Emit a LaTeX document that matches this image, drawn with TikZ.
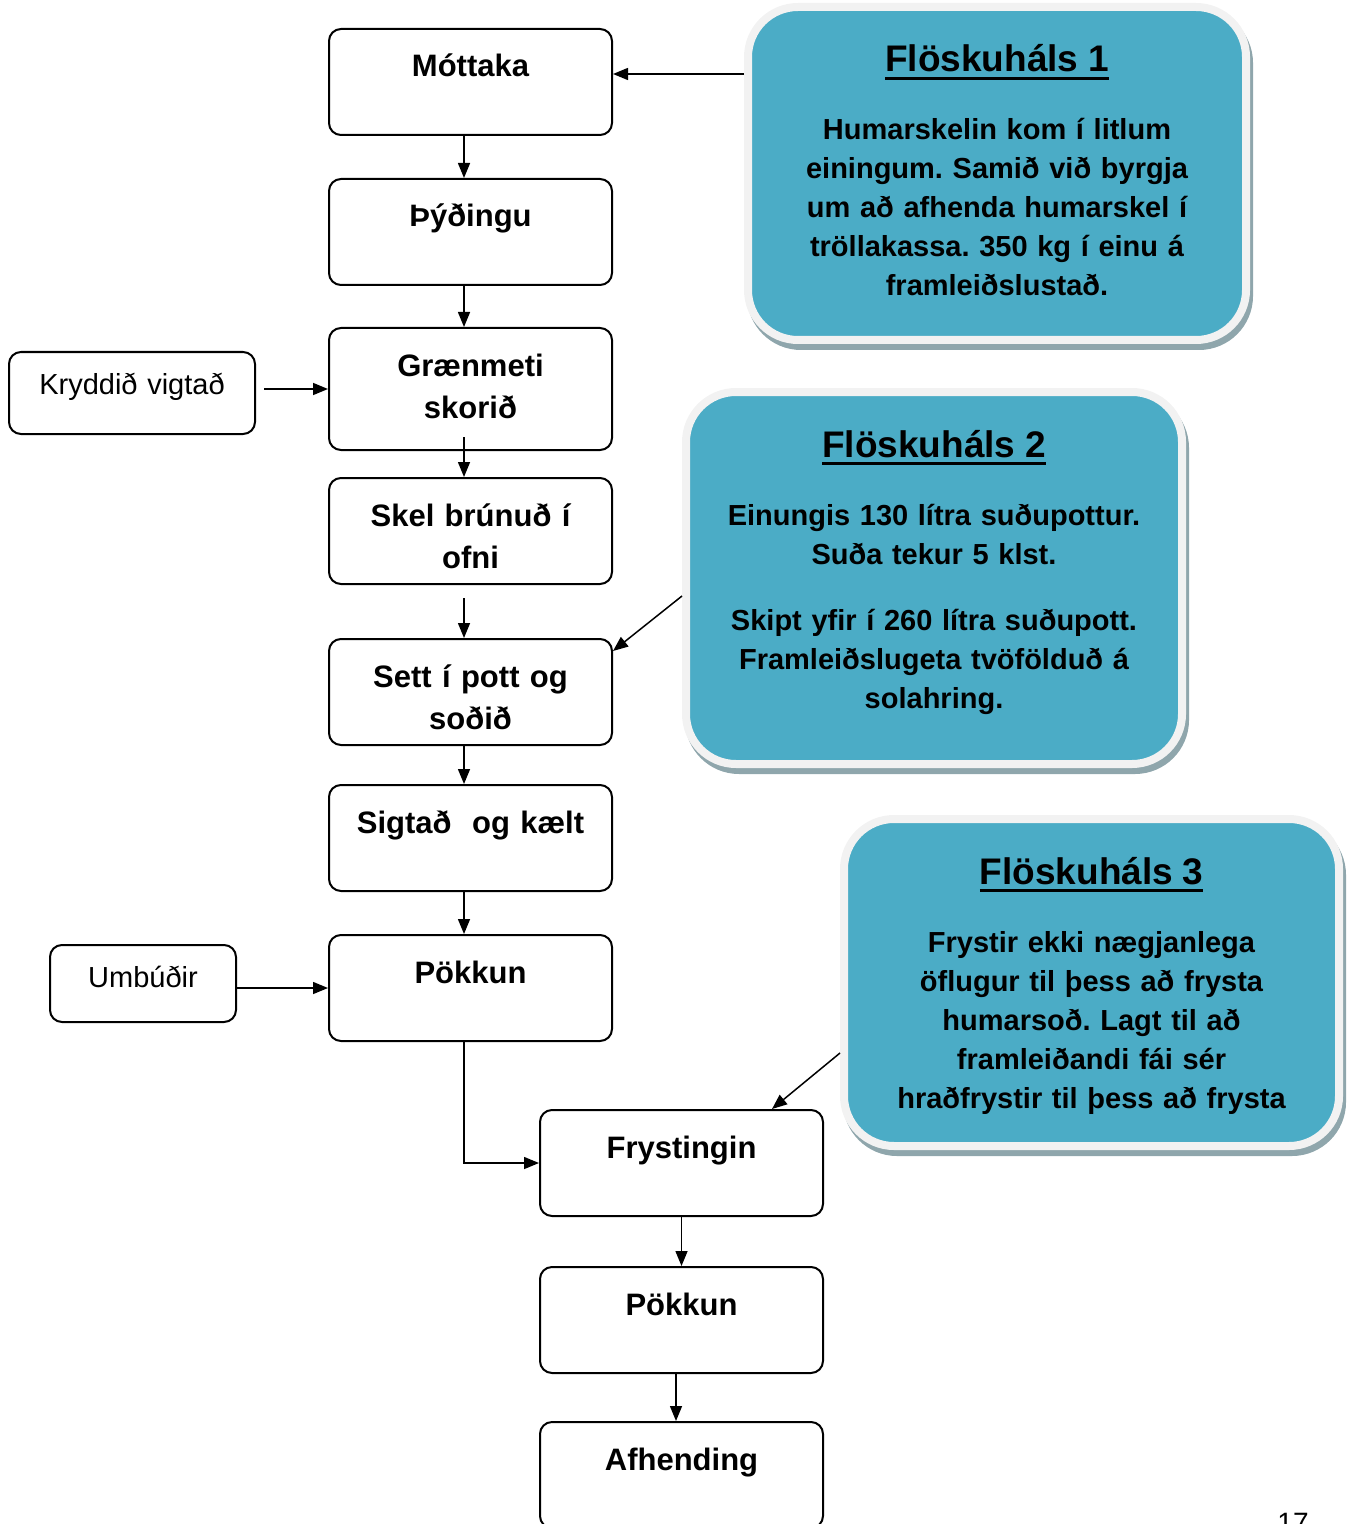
\documentclass[tikz,border=0pt]{standalone}
\usepackage{fontspec}
\setmainfont{Liberation Sans}
\usepackage{tikz}
\usetikzlibrary{arrows.meta,calc,shadows}
\definecolor{calloutblue}{RGB}{75,172,198}
\definecolor{calloutrim}{RGB}{242,242,242}
\definecolor{calloutshade}{RGB}{143,166,172}
\setlength{\parindent}{0pt}
\frenchspacing
\newcommand\flhead[1]{{\fontsize{18.5}{22}\selectfont\setbox0\hbox{#1}%
  \noindent\rlap{\rule[-3.8pt]{\wd0}{1.5pt}}\box0\par}\vspace{14.5pt}}

\begin{document}
\begin{tikzpicture}[x=0.5pt,y=-0.5pt,
  stepbox/.style={draw, line width=1pt, rounded corners=6pt, inner sep=0pt,
    text width=141.5pt, align=center, text height=24pt, text depth=29pt,
    font=\bfseries\fontsize{15.5}{21}\selectfont},
  inbox/.style={draw, line width=1pt, rounded corners=6pt, inner sep=0pt,
    align=center, text height=21pt, font=\fontsize{14.5}{18}\selectfont},
  callout/.style={draw=calloutrim, fill=calloutblue, line width=4pt,
    rounded corners=25pt, inner sep=0pt, align=center, text height=32.5pt,
    font=\bfseries\fontsize{14.5}{19.5}\selectfont,
    drop shadow={shadow xshift=1.5pt, shadow yshift=-3pt, fill=calloutshade,
      draw=calloutshade, opacity=1}},
  flow/.style={-{Triangle[length=7.5pt,width=6pt]}, line width=0.75pt}
]
\useasboundingbox (0,0) rectangle (1349,1524);

% main chain
\node[stepbox] (mot) at (470.5,82) {Móttaka};
\node[stepbox] (thy) at (470.5,232) {Þýðingu};
\node[stepbox, text depth=37pt] (gra) at (470.5,389) {Grænmeti\\ skorið};
\node[stepbox] (ske) at (470.5,531) {Skel brúnuð í\\ ofni};
\node[stepbox] (set) at (470.5,692) {Sett í pott og\\ soðið};
\node[stepbox] (sig) at (470.5,838) {Sigtað~ og kælt};
\node[stepbox] (pok) at (470.5,988) {Pökkun};
\node[stepbox] (fry) at (681.5,1163) {Frystingin};
\node[stepbox] (pok2) at (681.5,1320) {Pökkun};
\node[stepbox] (afh) at (681.5,1475) {Afhending};

% inputs
\node[inbox, text width=123pt, text depth=20pt] (kry) at (132,393) {Kryddið vigtað};
\node[inbox, text width=93pt, text depth=17.5pt] (umb) at (143,983.5) {Umbúðir};

% bottlenecks
\node[callout, text width=249pt, text depth=134pt] (fl1) at (997,173.5) {%
\flhead{Flöskuháls 1}Humarskelin kom í litlum\\ einingum. Samið við byrgja\\
um að afhenda humarskel í\\ tröllakassa. 350 kg í einu á\\ framleiðslustað.};
\node[callout, text width=248pt, text depth=153.5pt] (fl2) at (934,578) {%
\flhead{Flöskuháls 2}Einungis 130 lítra suðupottur.\\ Suða tekur 5 klst.\par
\vspace{13.5pt}Skipt yfir í 260 lítra suðupott.\\ Framleiðslugeta tvöfölduð á\\ solahring.};
\node[callout, text width=247.5pt, text depth=131pt] (fl3) at (1091.5,982.5) {%
\flhead{Flöskuháls 3}Frystir ekki nægjanlega\\ öflugur til þess að frysta\\
humarsoð. Lagt til að\\ framleiðandi fái sér\\ hraðfrystir til þess að frysta};

\node[anchor=base, font=\fontsize{14}{16}\selectfont] (pgno) at (1293,1532) {17};

% connectors
\draw[flow] ($(mot.east -| fl1.west)+(0,4pt)$) -- ($(mot.east)+(0,4pt)$);
\draw[flow] ([xshift=-3.25pt]mot.south) -- ([xshift=-3.25pt]thy.north);
\draw[flow] ([xshift=-3.25pt]thy.south) -- ([xshift=-3.25pt]gra.north);
\draw[flow] ($(kry.east |- gra.west)+(4pt,0)$) -- (gra.west);
\draw[flow] ($(gra.south)+(-3.25pt,7pt)$) -- ([xshift=-3.25pt]ske.north);
\draw[flow] ($(ske.south)+(-3.25pt,-6.5pt)$) -- ([xshift=-3.25pt]set.north);
\draw[flow] ($(fl2.west)+(0,-9pt)$) -- ($(set.north east)+(0,-6.5pt)$);
\draw[flow] ([xshift=-3.25pt]set.south) -- ([xshift=-3.25pt]sig.north);
\draw[flow] ([xshift=-3.25pt]sig.south) -- ([xshift=-3.25pt]pok.north);
\draw[flow] (umb.east |- pok.west) -- (pok.west);
\draw[flow] ([xshift=-3.25pt]pok.south) |- (fry.west);
\draw[flow] ($(fl3.west)+(0,-35.25pt)$) -- ($(fry.north)+(45.25pt,0)$);
\draw[flow] (fry.south) -- (pok2.north);
\draw[flow] ([xshift=-2.75pt]pok2.south) -- ([xshift=-2.75pt]afh.north);
\end{tikzpicture}
\end{document}
